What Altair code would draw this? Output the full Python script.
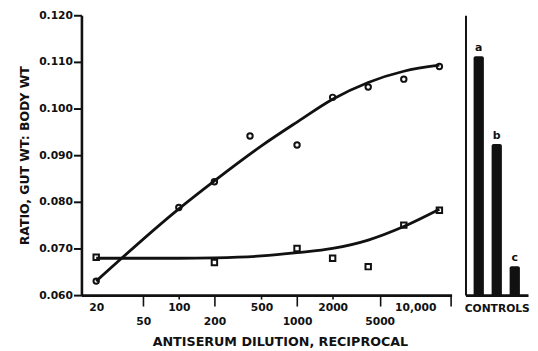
import altair as alt
import pandas as pd

# ---- data ----
dilution_o = [20, 100, 200, 400, 1000, 2000, 4000, 8000, 16000]
ratio_o = [0.0630, 0.0788, 0.0843, 0.0941, 0.0922, 0.1024, 0.1046, 0.1063, 0.1090]
dilution_s = [20, 200, 1000, 2000, 4000, 8000, 16000]
ratio_s = [0.0681, 0.0670, 0.0700, 0.0679, 0.0661, 0.0750, 0.0782]
fit_dil = [20, 100, 200, 500, 1000, 2000, 4000, 8000, 16000]
fit_o = [0.0630, 0.0785, 0.0845, 0.0920, 0.0971, 0.1020, 0.1056, 0.1080, 0.1093]
fit_s = [0.0679, 0.0679, 0.0680, 0.0684, 0.0691, 0.0700, 0.0718, 0.0747, 0.0784]
controls = ["a", "b", "c"]
control_ratio = [0.1112, 0.0924, 0.0662]
x_ticks = [20, 50, 100, 200, 500, 1000, 2000, 5000, 10000, 20000]
y_ticks = [0.060, 0.070, 0.080, 0.090, 0.100, 0.110, 0.120]

FONT = "DejaVu Sans"
INK = "#111111"

pts_o = pd.DataFrame({"dil": dilution_o, "ratio": ratio_o})
pts_s = pd.DataFrame({"dil": dilution_s, "ratio": ratio_s})
fits = pd.DataFrame({"dil": fit_dil * 2, "ratio": fit_o + fit_s,
                     "series": ["o"] * len(fit_dil) + ["s"] * len(fit_dil)})
ctrl = pd.DataFrame({"group": controls, "ratio": control_ratio})

LONG = "indexof([50, 200, 1000, 5000, 20000], datum.value) >= 0"

x_scale = alt.Scale(type="log", domain=[15, 20300], nice=False)
y_scale = alt.Scale(domain=[0.06, 0.12], nice=False, zero=False)

x_axis = alt.Axis(
    values=x_ticks,
    title="ANTISERUM DILUTION, RECIPROCAL",
    labelExpr="datum.value == 20000 ? '' : (datum.value == 10000 ? '10,000' : format(datum.value, 'd'))",
    tickSize={"condition": {"test": LONG, "value": 11}, "value": 4},
    tickOpacity={"condition": {"test": "datum.value == 20 || datum.value == 10000", "value": 0}, "value": 1},
    labelPadding={"condition": {"test": LONG, "value": 10}, "value": 3},
    tickWidth=1.6, domainWidth=2.6, labelFlush=False, labelOverlap=False,
    titlePadding=9, titleFontSize=12.8, titleX=200, titleAlign="center",
)
y_axis = alt.Axis(
    values=y_ticks, format=".3f", title="RATIO, GUT WT: BODY WT",
    tickSize=8, tickWidth=2, domainWidth=2.6, labelPadding=1,
    titlePadding=7, titleFontSize=12.5,
)

X = alt.X("dil:Q", scale=x_scale, axis=x_axis)
Y = alt.Y("ratio:Q", scale=y_scale, axis=y_axis)

lines = alt.Chart(fits).mark_line(color=INK, strokeWidth=2.8, interpolate="monotone").encode(
    x=X, y=Y, detail="series:N")
circles = alt.Chart(pts_o).mark_point(shape="circle", filled=False, color=INK, size=30,
                                       strokeWidth=2, opacity=1).encode(x=X, y=Y)
squares = alt.Chart(pts_s).mark_point(shape="square", filled=False, color=INK, size=30,
                                       strokeWidth=2, opacity=1).encode(x=X, y=Y)

left = alt.layer(lines, circles, squares).properties(width=373, height=282)

bx = alt.X("group:N", scale=alt.Scale(paddingInner=0.43, paddingOuter=0.45),
           axis=alt.Axis(labels=False, ticks=False, domainWidth=2.6, title="CONTROLS",
                         titlePadding=8, titleFontSize=10.8))
by = alt.Y("ratio:Q", scale=y_scale,
           axis=alt.Axis(labels=False, ticks=False, domainWidth=2, title=None, grid=False))
bars = alt.Chart(ctrl).mark_bar(color=INK, cornerRadiusTopLeft=2, cornerRadiusTopRight=2).encode(
    x=bx, y=by, y2=alt.datum(0.06))
letters = alt.Chart(ctrl).mark_text(font=FONT, fontWeight="bold", fontSize=11, baseline="bottom",
                                    dy=-3, color=INK).encode(x=bx, y=by, text="group:N")
right = alt.layer(bars, letters).properties(width=63, height=282)

chart = alt.hconcat(left, right, spacing=12).properties(
    padding={"left": 10, "top": 0, "right": 0, "bottom": 0}
).configure_view(stroke=None).configure_axis(
    grid=False, domainColor=INK, tickColor=INK, labelColor=INK, titleColor=INK,
    labelFont=FONT, titleFont=FONT, labelFontSize=10.8, labelFontWeight="bold",
    titleFontWeight="bold",
)

chart.save("out.html", embed_options={"renderer": "svg", "actions": False})
